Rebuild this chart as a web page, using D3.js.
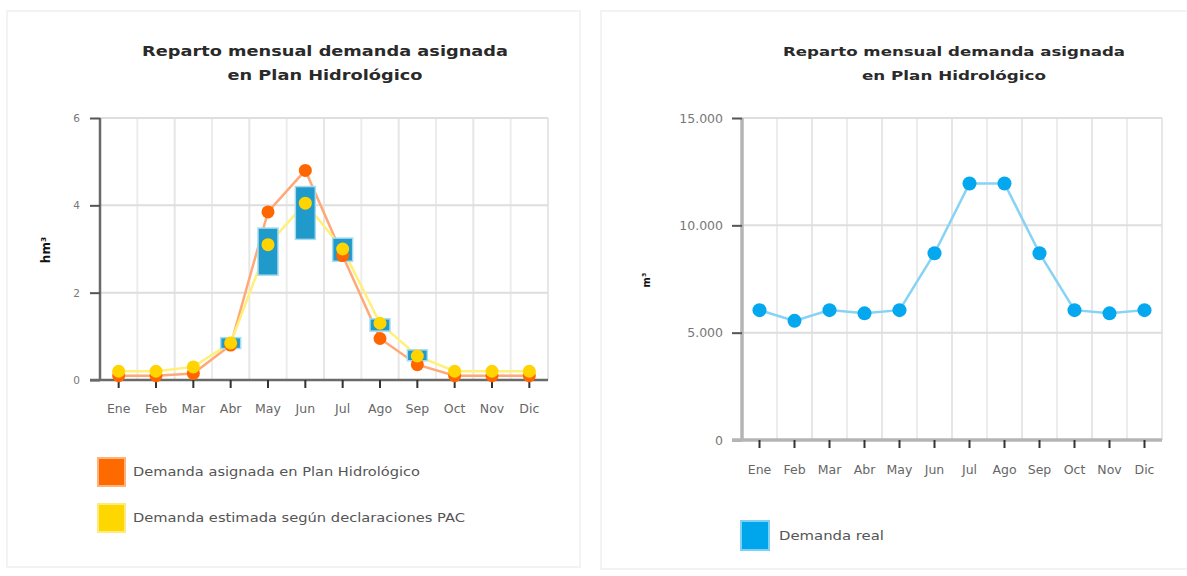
<!DOCTYPE html>
<html><head><meta charset="utf-8">
<script src="https://cdn.jsdelivr.net/npm/d3@7"></script>
<style>body{margin:0;background:#fff;font-family:"DejaVu Sans",sans-serif;}</style>
</head><body><svg id="c" width="1187" height="576"></svg>
<script>
const months = ["Ene","Feb","Mar","Abr","May","Jun","Jul","Ago","Sep","Oct","Nov","Dic"];
const asignada = [0.1,0.1,0.15,0.8,3.85,4.8,2.85,0.95,0.35,0.1,0.1,0.1];
const estimada = [0.2,0.2,0.3,0.85,3.1,4.05,3.0,1.3,0.55,0.2,0.2,0.2];
const rangoBajo = [null,null,null,0.72,2.4,3.22,2.72,1.12,0.44,null,null,null];
const rangoAlto = [null,null,null,0.97,3.48,4.43,3.25,1.4,0.69,null,null,null];
const real = [6050,5550,6050,5900,6050,8700,11950,11950,8700,6050,5900,6050];
const ticksL = [0,2,4,6];
const ticksR = [0,5000,10000,15000];
const tickLabelsR = ["0","5.000","10.000","15.000"];
const title1 = "Reparto mensual demanda asignada";
const title2 = "en Plan Hidrológico";
const legendL = ["Demanda asignada en Plan Hidrológico","Demanda estimada según declaraciones PAC"];
const legendR = ["Demanda real"];

const svg = d3.select("#c");
svg.append("rect").attr("x",7).attr("y",11).attr("width",573).attr("height",556).attr("fill","none").attr("stroke","#f3f3f3").attr("stroke-width",2);
svg.append("rect").attr("x",601).attr("y",11).attr("width",590).attr("height",558).attr("fill","none").attr("stroke","#f3f3f3").attr("stroke-width",2);

function panel(o){
  const g = svg.append("g");
  const x = d3.scaleBand().domain(months).range([o.x0,o.x1]);
  const y = d3.scaleLinear().domain([0,o.ymax]).range([o.y0,o.y1]);
  months.forEach((m,i)=>{
    g.append("line").attr("x1",x(m)+x.bandwidth()).attr("x2",x(m)+x.bandwidth())
      .attr("y1",o.y1).attr("y2",o.y0).attr("stroke",i%2? "#e6e6e6":"#ececec").attr("stroke-width",2);
  });
  o.ticks.forEach(t=>{
    g.append("line").attr("x1",o.x0).attr("x2",o.x1).attr("y1",y(t)).attr("y2",y(t))
      .attr("stroke","#dedede").attr("stroke-width",2);
  });
  const ya = d3.axisLeft(y).tickValues(o.ticks).tickSize(10).tickFormat((d,i)=>o.tickLabels[i]);
  const yg = g.append("g").attr("transform",`translate(${o.x0},0)`).call(ya);
  yg.select(".domain").attr("stroke",o.axisColor).attr("stroke-width",o.axisW).attr("d",`M0,${o.y1}V${o.y0}`);
  yg.selectAll(".tick line").attr("stroke","#555").attr("stroke-width",2);
  yg.selectAll(".tick text").attr("x",o.labelX).attr("fill","#777").attr("font-size",o.ytfs).attr("font-family","DejaVu Sans");
  const xa = d3.axisBottom(x).tickSize(8).tickSizeOuter(0);
  const xg = g.append("g").attr("transform",`translate(0,${o.y0})`).call(xa);
  xg.select(".domain").attr("stroke",o.axisColor).attr("stroke-width",o.axisW).attr("d",`M${o.x0-10},0H${o.x1}`);
  xg.selectAll(".tick line").attr("stroke","#333").attr("stroke-width",2);
  xg.selectAll(".tick text").attr("y",o.xlabDy).attr("fill","#666").attr("font-size",12.5).attr("font-family","DejaVu Sans");
  g.append("text").attr("transform",`translate(${o.atx},${o.aty}) rotate(-90)`).attr("text-anchor","middle")
    .attr("dominant-baseline","middle").attr("font-weight","bold").attr("font-size",o.atfs).attr("fill","#111").text(o.atitle);
  g.append("text").attr("x",o.tcx).attr("y",56).attr("text-anchor","middle").attr("font-weight","bold")
    .attr("font-size",o.tfs).attr("fill","#2a2a2a").attr("textLength",o.tw1).attr("lengthAdjust","spacingAndGlyphs").text(title1);
  g.append("text").attr("x",o.tcx).attr("y",80).attr("text-anchor","middle").attr("font-weight","bold")
    .attr("font-size",o.tfs).attr("fill","#2a2a2a").attr("textLength",o.tw2).attr("lengthAdjust","spacingAndGlyphs").text(title2);
  return {g,x,y};
}

const L = panel({x0:100,x1:548,y0:380,y1:118,ymax:6,ticks:ticksL,tickLabels:ticksL.map(String),
  axisColor:"#6a6a6a",axisW:2.5,labelX:-20,ytfs:10.5,xlabDy:24,atx:46,aty:250,atfs:12,atitle:"hm³",
  tcx:325,tfs:14,tw1:366,tw2:195});
const cx = m=>L.x(m)+L.x.bandwidth()/2;
const lineL = d3.line().x((d,i)=>cx(months[i])).y(d=>L.y(d));
L.g.append("path").datum(asignada).attr("d",lineL).attr("fill","none").attr("stroke","#ffa878").attr("stroke-width",2.5);
L.g.append("path").datum(estimada).attr("d",lineL).attr("fill","none").attr("stroke","#fff07a").attr("stroke-width",2.5);
L.g.selectAll(".rng").data(months.filter((m,i)=>rangoAlto[i]!=null)).enter().append("rect")
  .attr("x",m=>cx(m)-10).attr("width",20)
  .attr("y",m=>L.y(rangoAlto[months.indexOf(m)])).attr("height",m=>{const i=months.indexOf(m);return L.y(rangoBajo[i])-L.y(rangoAlto[i]);})
  .attr("fill","#1f9acb").attr("stroke","#a6dcf0").attr("stroke-width",1.5);
L.g.selectAll(".ma").data(asignada).enter().append("circle").attr("cx",(d,i)=>cx(months[i])).attr("cy",d=>L.y(d))
  .attr("r",6.5).attr("fill","#ff6600");
L.g.selectAll(".me").data(estimada).enter().append("circle").attr("cx",(d,i)=>cx(months[i])).attr("cy",d=>L.y(d))
  .attr("r",6.5).attr("fill","#ffd400");
const legColors = ["#ff6a00","#ffd700"], legBorders=["#ffb27a","#ffea80"];
legendL.forEach((t,i)=>{
  const yy = 458 + i*46;
  svg.append("rect").attr("x",98).attr("y",yy).attr("width",27).attr("height",28).attr("fill",legColors[i]).attr("stroke",legBorders[i]).attr("stroke-width",2);
  svg.append("text").attr("x",133).attr("y",yy+14).attr("dominant-baseline","middle").attr("font-size",12).attr("fill","#555")
    .attr("textLength",i==0?287:332).attr("lengthAdjust","spacingAndGlyphs").text(t);
});

const R = panel({x0:742,x1:1162,y0:440,y1:118,ymax:15000,ticks:ticksR,tickLabels:tickLabelsR,
  axisColor:"#b5b5b5",axisW:3.5,labelX:-19,ytfs:12.5,xlabDy:25,atx:647,aty:280,atfs:10,atitle:"m³",
  tcx:954,tfs:12.5,tw1:342,tw2:184});
const cxr = m=>R.x(m)+R.x.bandwidth()/2;
const lineR = d3.line().x((d,i)=>cxr(months[i])).y(d=>R.y(d));
R.g.append("path").datum(real).attr("d",lineR).attr("fill","none").attr("stroke","#86d3f5").attr("stroke-width",2.5);
R.g.selectAll(".mr").data(real).enter().append("circle").attr("cx",(d,i)=>cxr(months[i])).attr("cy",d=>R.y(d))
  .attr("r",7).attr("fill","#05a8ee");
legendR.forEach((t,i)=>{
  svg.append("rect").attr("x",741).attr("y",521).attr("width",28).attr("height",29).attr("fill","#00a6ec").attr("stroke","#7fd0f5").attr("stroke-width",2);
  svg.append("text").attr("x",779).attr("y",536).attr("dominant-baseline","middle").attr("font-size",12).attr("fill","#555")
    .attr("textLength",105).attr("lengthAdjust","spacingAndGlyphs").text(t);
});
</script></body></html>
